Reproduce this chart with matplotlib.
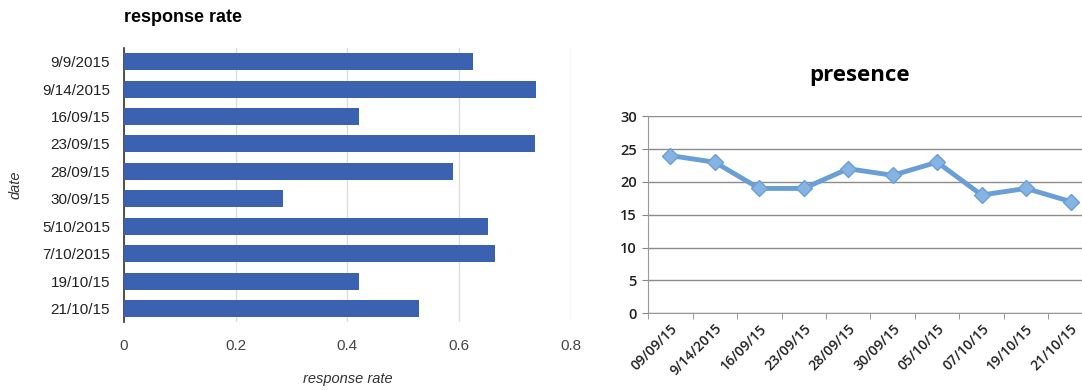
import numpy as np
import matplotlib
matplotlib.use("Agg")
from matplotlib import pyplot as plt

# response rate per session (horizontal bars, top to bottom)
rate_dates = ['9/9/2015', '9/14/2015', '16/09/15', '23/09/15', '28/09/15',
              '30/09/15', '5/10/2015', '7/10/2015', '19/10/15', '21/10/15']
rate_values = [0.624, 0.738, 0.420, 0.736, 0.589, 0.284, 0.652, 0.665, 0.420, 0.528]
rate_ticks = [0, 0.2, 0.4, 0.6, 0.8]

# presence per session (line)
presence_dates = ['09/09/15', '9/14/2015', '16/09/15', '23/09/15', '28/09/15',
                  '30/09/15', '05/10/15', '07/10/15', '19/10/15', '21/10/15']
presence_values = [24, 23, 19, 19, 22, 21, 23, 18, 19, 17]
presence_ticks = [0, 5, 10, 15, 20, 25, 30]

fig = plt.figure(figsize=(10.82, 3.90), dpi=100)

# ---- left: response rate bars
ax1 = fig.add_axes([0.1146, 0.174, 0.413, 0.703])
y = np.arange(len(rate_dates))
ax1.barh(y, rate_values, height=0.62, color='#3b62b1', zorder=3)
ax1.set_ylim(len(rate_dates) - 0.5, -0.5)
ax1.set_xlim(0, 0.8)
ax1.set_xticks(rate_ticks)
ax1.set_xticklabels(['0', '0.2', '0.4', '0.6', '0.8'], fontsize=11,
                    color='#444444', family='Liberation Sans')
ax1.set_yticks(y)
ax1.set_yticklabels(rate_dates, fontsize=11, color='#222222', family='Liberation Sans')
ax1.tick_params(length=0, pad=10)
ax1.tick_params(axis='x', pad=12)
ax1.grid(axis='x', color='#dddddd', linewidth=1, zorder=0)
for s in ['top', 'right', 'bottom']:
    ax1.spines[s].set_visible(False)
ax1.spines['left'].set_color('#333333')
ax1.spines['left'].set_linewidth(1.2)
ax1.set_xlabel('response rate', fontsize=10.5, style='italic', color='#333333',
               family='Liberation Sans', labelpad=14)
ax1.set_ylabel('date', fontsize=10.5, style='italic', color='#333333',
               family='Liberation Sans', labelpad=14)
fig.text(0.1146, 0.955, 'response rate', fontsize=13, fontweight='bold',
         family='Liberation Sans', va='center', ha='left')

# ---- right: presence line
ax2 = fig.add_axes([0.599, 0.197, 0.411, 0.505])
x = np.arange(len(presence_dates))
ax2.plot(x, presence_values, color='#6a9fd6', linewidth=3.5, marker='D',
         markersize=8.5, markerfacecolor='#86b4e2', markeredgecolor='#6a9fd6',
         markeredgewidth=1, zorder=3)
ax2.set_xlim(-0.5, len(presence_dates) - 0.5)
ax2.set_ylim(0, 30)
ax2.set_yticks(presence_ticks)
ax2.set_yticklabels([str(v) for v in presence_ticks], fontsize=10.5, color='#222222',
                    family='Open Sans', fontweight='semibold')
ax2.set_xticks(x)
ax2.set_xticklabels(presence_dates, rotation=45, ha='right', rotation_mode='anchor',
                    fontsize=10, color='#222222', family='Open Sans',
                    fontweight='semibold')
ax2.set_xticks(np.arange(len(presence_dates) + 1) - 0.5, minor=True)
ax2.tick_params(axis='x', which='major', length=0, pad=6)
ax2.tick_params(axis='x', which='minor', length=4, color='#888888', direction='out')
ax2.tick_params(axis='y', length=4, color='#888888', direction='out', pad=4)
ax2.grid(axis='y', color='#8c8c8c', linewidth=1, zorder=0)
for s in ['top', 'right']:
    ax2.spines[s].set_visible(False)
for s in ['left', 'bottom']:
    ax2.spines[s].set_color('#999999')
fig.text(860 / 1082, 1 - 75 / 390, 'presence', fontsize=16, fontweight='bold',
         family='Open Sans', ha='center', va='center')

fig.savefig('out.png', dpi=100)
